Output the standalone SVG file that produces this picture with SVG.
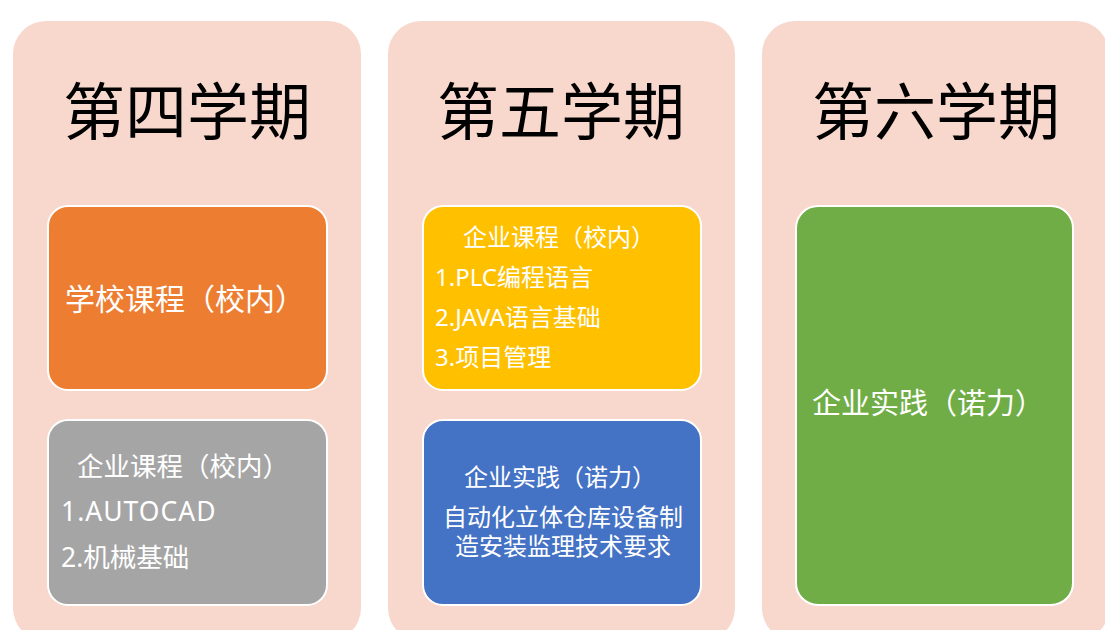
<svg xmlns="http://www.w3.org/2000/svg" width="1105" height="630" viewBox="0 0 1105 630">
<style>
.panel{fill:#F8D7CD}
.box{stroke:#FFFFFF;stroke-width:2}
.t{font-family:"Noto Sans","Noto Sans CJK SC",sans-serif;fill:#FFFFFF}
.title{font-family:"Noto Sans CJK SC",sans-serif;fill:#000000;font-size:62px;text-anchor:middle}
</style>
<rect width="1105" height="630" fill="#FFFFFF"/>
<g id="sem4">
<rect class="panel" x="13" y="21" width="348" height="620" rx="33"/>
<text class="title" x="187" y="135">第四学期</text>
</g>
<g id="sem5">
<rect class="panel" x="388" y="21" width="347" height="620" rx="33"/>
<text class="title" x="561" y="135">第五学期</text>
</g>
<g id="sem6">
<rect class="panel" x="762" y="21" width="347" height="620" rx="33"/>
<text class="title" x="936" y="135">第六学期</text>
</g>
<g id="school-course">
<rect class="box" x="48" y="206" width="279" height="184" rx="20" fill="#ED7D31"/>
<text class="t" x="65" y="310" font-size="30">学校课程（校内）</text>
</g>
<g id="enterprise-course-4">
<rect class="box" x="48" y="420" width="279" height="185" rx="20" fill="#A5A5A5"/>
<text class="t" x="77" y="476" font-size="26.5">企业课程（校内）</text>
<text class="t" x="61" y="521" font-size="26.5" letter-spacing="1">1.AUTOCAD</text>
<text class="t" x="61" y="567" font-size="26.5">2.机械基础</text>
</g>
<g id="enterprise-course-5">
<rect class="box" x="423" y="206" width="278" height="184" rx="20" fill="#FFC000"/>
<text class="t" x="463" y="246" font-size="24">企业课程（校内）</text>
<text class="t" x="435" y="286" font-size="24">1.PLC编程语言</text>
<text class="t" x="435" y="326" font-size="24">2.JAVA语言基础</text>
<text class="t" x="435" y="366" font-size="24">3.项目管理</text>
</g>
<g id="enterprise-practice-5">
<rect class="box" x="423" y="420" width="278" height="185" rx="20" fill="#4472C4"/>
<text class="t" x="464" y="486" font-size="24">企业实践（诺力）</text>
<text class="t" font-size="24" text-anchor="middle"><tspan x="563" y="526">自动化立体仓库设备制</tspan><tspan x="563" y="555">造安装监理技术要求</tspan></text>
</g>
<g id="enterprise-practice-6">
<rect class="box" x="796" y="206" width="277" height="399" rx="22" fill="#70AD47"/>
<text class="t" x="812" y="414" font-size="29">企业实践（诺力）</text>
</g>
<g id="connectors"></g>
</svg>
